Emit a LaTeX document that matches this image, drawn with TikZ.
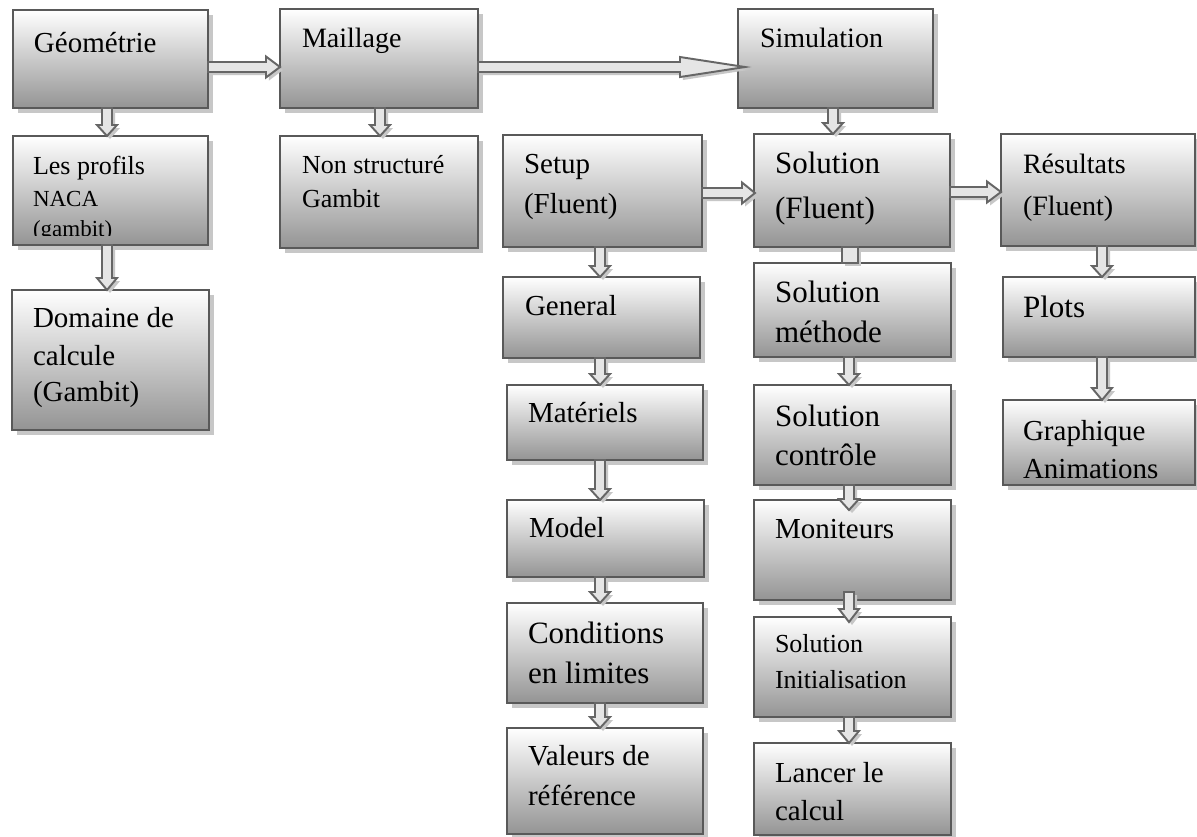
\documentclass[tikz,border=0pt]{standalone}
\usepackage{fontspec}
\setmainfont{Liberation Serif}
\usetikzlibrary{calc,shadows}
\def\pxu{0.28453pt}
\tikzset{
  bx/.style={draw=black!65, line width=0.7pt, top color=white, bottom color=black!42,
    inner sep=0pt, outer sep=0pt,
    drop shadow={shadow xshift=0.05cm, shadow yshift=-0.05cm, fill=black!22, opacity=1}},
  barrow/.style={draw=black!60, line width=0.55pt, fill=black!10, line join=miter,
    drop shadow={shadow xshift=0.03cm, shadow yshift=-0.03cm, fill=black!22, opacity=1}},
  txt/.style={inner sep=0pt, outer sep=0pt, anchor=base west, text=black},
  f23/.style={font=\fontsize{6.54}{7}\selectfont},
  f26/.style={font=\fontsize{7.40}{8}\selectfont},
  f28/.style={font=\fontsize{7.97}{9}\selectfont},
  f29/.style={font=\fontsize{8.25}{9}\selectfont},
  f31/.style={font=\fontsize{8.82}{10}\selectfont},
}
\newcommand\bxn[5]{\node[bx, minimum width={(#4-#2)*0.01cm}, minimum height={(#5-#3)*0.01cm}] (#1) at ({(#2+#4)/2},{(#3+#5)/2}) {};}
\newcommand\tl[5]{\node[txt, #5] (#1) at (#2,#3) {#4};}
\newcommand\harrow[5]{%
  \draw[barrow] let \p1=#1, \p2=#2 in
  (\x1,{\y1+#3*\pxu}) -- ({\x2-#5*\pxu},{\y1+#3*\pxu}) -- ({\x2-#5*\pxu},{\y1+#4*\pxu}) -- (\x2,\y1)
  -- ({\x2-#5*\pxu},{\y1-#4*\pxu}) -- ({\x2-#5*\pxu},{\y1-#3*\pxu}) -- (\x1,{\y1-#3*\pxu}) -- cycle;}
\newcommand\varrow[5]{%
  \draw[barrow] let \p1=#1, \p2=#2 in
  ({\x1-#3*\pxu},\y1) -- ({\x1-#3*\pxu},{\y2+#5*\pxu}) -- ({\x1-#4*\pxu},{\y2+#5*\pxu}) -- (\x1,\y2)
  -- ({\x1+#4*\pxu},{\y2+#5*\pxu}) -- ({\x1+#3*\pxu},{\y2+#5*\pxu}) -- ({\x1+#3*\pxu},\y1) -- cycle;}
\begin{document}
\begin{tikzpicture}[x=0.01cm, y=-0.01cm]
\useasboundingbox[fill=white] (0,0) rectangle (1197,836);
% ---- boxes ----
\bxn{geo}{13}{10}{208}{108}
\tl{geo-1}{34}{52}{Géométrie}{f29}
\bxn{mai}{280}{9}{478}{108}
\tl{mai-1}{302}{47}{Maillage}{f28}
\bxn{sim}{738}{9}{933}{108}
\tl{sim-1}{760}{47}{Simulation}{f28}
\bxn{prof}{13}{136}{208}{245}
\begin{scope}
  \clip (13,136) rectangle (208,235);
  \tl{prof-1}{33}{174}{Les profils}{f26}
  \tl{prof-2}{33}{206}{NACA}{f23}
  \tl{prof-3}{33}{236}{(gambit)}{f23}
\end{scope}
\bxn{nons}{280}{136}{478}{248}
\tl{nons-1}{302}{173}{Non structuré}{f26}
\tl{nons-2}{302}{207}{Gambit}{f26}
\bxn{dom}{12}{290}{209}{430}
\tl{dom-1}{33}{327}{Domaine de}{f29}
\tl{dom-2}{33}{365}{calcule}{f29}
\tl{dom-3}{33}{401}{(Gambit)}{f29}
\bxn{setup}{503}{135}{702}{247}
\tl{setup-1}{524}{173}{Setup}{f29}
\tl{setup-2}{524}{213}{(Fluent)}{f29}
\bxn{sol}{754}{134}{950}{247}
\tl{sol-1}{775}{173}{Solution}{f31}
\tl{sol-2}{775}{218}{(Fluent)}{f31}
\bxn{res}{1001}{134}{1195}{246}
\tl{res-1}{1023}{173}{Résultats}{f28}
\tl{res-2}{1023}{215}{(Fluent)}{f28}
\bxn{gen}{503}{277}{700}{358}
\tl{gen-1}{525}{315}{General}{f29}
\bxn{mat}{507}{385}{703}{460}
\tl{mat-1}{528}{422}{Matériels}{f29}
\bxn{mod}{507}{500}{704}{577}
\tl{mod-1}{529}{537}{Model}{f29}
\bxn{cond}{507}{603}{703}{703}
\tl{cond-1}{528}{643}{Conditions}{f31}
\tl{cond-2}{528}{683}{en limites}{f31}
\bxn{val}{507}{728}{703}{834}
\tl{val-1}{528}{765}{Valeurs de}{f29}
\tl{val-2}{528}{805}{référence}{f29}
\bxn{smeth}{754}{263}{951}{357}
\tl{smeth-1}{775}{302}{Solution}{f31}
\tl{smeth-2}{775}{342}{méthode}{f31}
\bxn{sctrl}{754}{385}{951}{485}
\tl{sctrl-1}{775}{426}{Solution}{f31}
\tl{sctrl-2}{775}{465}{contrôle}{f31}
\bxn{mon}{754}{500}{951}{600}
\tl{mon-1}{775}{538}{Moniteurs}{f29}
\bxn{sinit}{754}{617}{951}{717}
\tl{sinit-1}{775}{652}{Solution}{f26}
\tl{sinit-2}{775}{688}{Initialisation}{f26}
\bxn{lanc}{754}{743}{951}{835}
\tl{lanc-1}{775}{782}{Lancer le}{f29}
\tl{lanc-2}{775}{820}{calcul}{f29}
\bxn{plots}{1003}{277}{1195}{357}
\tl{plots-1}{1023}{317}{Plots}{f31}
\bxn{graph}{1003}{400}{1195}{485}
\tl{graph-1}{1023}{440}{Graphique}{f29}
\tl{graph-2}{1023}{478}{Animations}{f29}
% ---- horizontal arrows ----
\harrow{($(geo.east)+(0,8)$)}{(mai.west)}{5}{10.5}{14}
\harrow{($(mai.east)+(0,8.5)$)}{($(sim.west)+(7,0)$)}{5}{10}{65}
\harrow{($(setup.east)+(0,2)$)}{($(sol.west)+(1,0)$)}{5}{10.5}{13}
\harrow{($(sol.east)+(0,1.5)$)}{(res.west)}{5}{10.5}{14}
% ---- vertical arrows ----
\varrow{($(geo.south)+(-3.5,0)$)}{(prof.north)}{5}{10}{11}
\varrow{($(prof.south)+(-3.5,0)$)}{(dom.north)}{5}{10}{12}
\varrow{($(mai.south)+(1,0)$)}{(nons.north)}{5}{10}{11}
\varrow{($(sim.south)+(-2.5,0)$)}{(sol.north)}{5}{10}{11}
\varrow{($(setup.south)+(-2.5,0)$)}{(gen.north)}{5}{10}{11}
\varrow{($(gen.south)+(-1.5,0)$)}{(mat.north)}{5}{10}{11}
\varrow{($(mat.south)+(-5,0)$)}{(mod.north)}{5}{10}{11}
\varrow{($(mod.south)+(-5.5,0)$)}{(cond.north)}{5}{10}{11}
\varrow{($(cond.south)+(-5,0)$)}{(val.north)}{5}{10}{11}
\draw[barrow] ($(sol.south)+(-10,0)$) rectangle ($(smeth.north)+(5.5,0)$);
\varrow{($(smeth.south)+(-3.5,0)$)}{(sctrl.north)}{5}{10}{11}
\varrow{($(sctrl.south)+(-3.5,0)$)}{($(mon.north)+(0,10)$)}{5}{10}{11}
\varrow{($(mon.south)+(-3.5,-8)$)}{($(sinit.north)+(0,5)$)}{5}{10}{13}
\varrow{($(sinit.south)+(-3.5,0)$)}{(lanc.north)}{5}{10}{12}
\varrow{($(res.south)+(4,0)$)}{(plots.north)}{5}{10}{11}
\varrow{($(plots.south)+(3,0)$)}{(graph.north)}{5}{10}{12}
\end{tikzpicture}
\end{document}
